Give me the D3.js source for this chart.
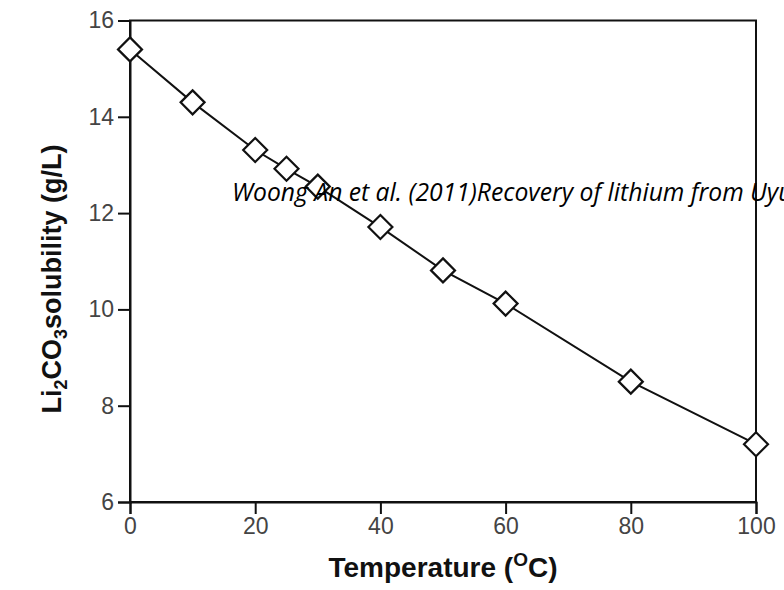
<!DOCTYPE html>
<html>
<head>
<meta charset="utf-8">
<script src="https://cdnjs.cloudflare.com/ajax/libs/d3/7.8.5/d3.min.js"></script>
<style>
  body { margin: 0; background: #fff; }
  svg { display: block; }
</style>
</head>
<body>
<div id="chart"></div>
<script>
// data
var temperature = [0, 10, 20, 25, 30, 40, 50, 60, 80, 100];
var solubility = [15.4, 14.3, 13.31, 12.92, 12.55, 11.71, 10.81, 10.12, 8.5, 7.2];
var xTicks = [0, 20, 40, 60, 80, 100];
var yTicks = [6, 8, 10, 12, 14, 16];

var W = 784, H = 590;
var margin = {top: 20.5, right: 28, bottom: 88, left: 130};
var width = W - margin.left - margin.right,
    height = H - margin.top - margin.bottom;

var svg = d3.select("#chart").append("svg")
    .attr("width", W)
    .attr("height", H);

var g = svg.append("g")
    .attr("transform", "translate(" + margin.left + "," + margin.top + ")");

var x = d3.scaleLinear().domain([0, 100]).range([0, width]);
var y = d3.scaleLinear().domain([6, 16]).range([height, 0]);

// source note (sits under the frame in the original, runs off the right edge)
svg.append("text")
    .attr("x", 232)
    .attr("y", 201)
    .attr("font-family", "Open Sans, sans-serif")
    .attr("font-style", "italic")
    .attr("font-size", 24.7)
    .attr("fill", "#000")
    .text("Woong An et al. (2011)Recovery of lithium from Uyuni salar brine");

// frame
g.append("rect")
    .attr("width", width)
    .attr("height", height)
    .attr("fill", "none")
    .attr("stroke", "#111")
    .attr("stroke-width", 2);

var xAxis = g.append("g")
    .attr("transform", "translate(0," + height + ")")
    .call(d3.axisBottom(x).tickValues(xTicks).tickSize(12).tickPadding(4));
var yAxis = g.append("g")
    .call(d3.axisLeft(y).tickValues(yTicks).tickSize(12).tickPadding(4));

[xAxis, yAxis].forEach(function(a) {
  a.select(".domain").attr("stroke", "#111").attr("stroke-width", 2);
  a.selectAll(".tick line").attr("stroke", "#111").attr("stroke-width", 2);
  a.selectAll(".tick text")
    .attr("font-family", "Liberation Sans, Arial, sans-serif")
    .attr("font-size", 23)
    .attr("fill", "#444");
});

// line
var pts = temperature.map(function(t, i) { return [t, solubility[i]]; });
g.append("path")
    .datum(pts)
    .attr("fill", "none")
    .attr("stroke", "#111")
    .attr("stroke-width", 2)
    .attr("d", d3.line().x(function(d) { return x(d[0]); }).y(function(d) { return y(d[1]); }));

// diamond markers
g.selectAll(".pt")
    .data(pts)
    .enter().append("path")
    .attr("class", "pt")
    .attr("transform", function(d) { return "translate(" + x(d[0]) + "," + y(d[1]) + ")"; })
    .attr("d", "M0,-12L12,0L0,12L-12,0Z")
    .attr("fill", "#fff")
    .attr("stroke", "#111")
    .attr("stroke-width", 2.2);

// axis titles
var xt = svg.append("text")
    .attr("x", margin.left + width / 2)
    .attr("y", 577)
    .attr("text-anchor", "middle")
    .attr("font-family", "Liberation Sans, Arial, sans-serif")
    .attr("font-weight", "bold")
    .attr("font-size", 28)
    .attr("fill", "#111");
xt.append("tspan").text("Temperature (");
xt.append("tspan").attr("font-size", 19).attr("dy", -11).text("O");
xt.append("tspan").attr("dy", 11).text("C)");

var yt = svg.append("text")
    .attr("transform", "translate(61,279) rotate(-90)")
    .attr("text-anchor", "middle")
    .attr("font-family", "Liberation Sans, Arial, sans-serif")
    .attr("font-weight", "bold")
    .attr("font-size", 27)
    .attr("fill", "#111");
yt.append("tspan").text("Li");
yt.append("tspan").attr("font-size", 18).attr("dy", 6).text("2");
yt.append("tspan").attr("dy", -6).text("CO");
yt.append("tspan").attr("font-size", 18).attr("dy", 6).text("3");
yt.append("tspan").attr("dy", -6).text("solubility (g/L)");
</script>
</body>
</html>
